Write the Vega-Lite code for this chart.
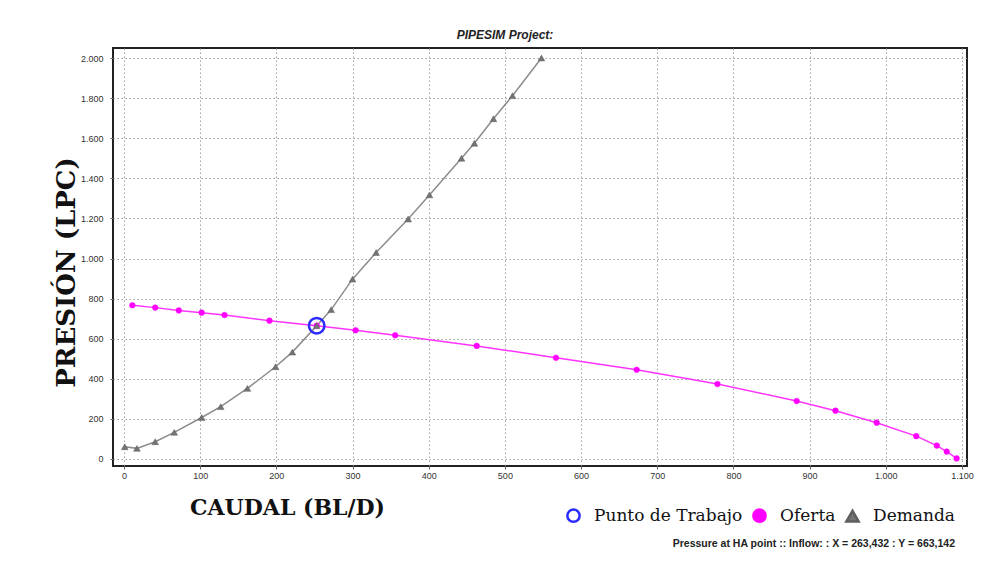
{
  "$schema": "https://vega.github.io/schema/vega-lite/v6.json",
  "autosize": {"type": "none"},
  "width": 854,
  "height": 418,
  "padding": {"left": 113, "top": 48, "right": 30, "bottom": 103},
  "background": "white",
  "title": {
    "text": "PIPESIM Project:",
    "font": "Liberation Sans",
    "fontSize": 12,
    "fontWeight": "bold",
    "fontStyle": "italic",
    "color": "#222",
    "anchor": "middle",
    "dx": -35,
    "offset": 6
  },
  "config": {
    "view": {"stroke": "#222", "strokeWidth": 2},
    "axis": {
      "labelFont": "Liberation Sans",
      "labelFontSize": 9,
      "labelColor": "#333",
      "domain": false,
      "grid": true,
      "gridColor": "#a0a0a0",
      "gridDash": [1.5, 2.5],
      "gridWidth": 1,
      "gridOpacity": 1,
      "tickColor": "#666",
      "tickSize": 3
    },
    "legend": {
      "labelFont": "DejaVu Serif",
      "labelFontSize": 17,
      "labelColor": "#111",
      "labelOffset": 12,
      "labelLimit": 300,
      "columnPadding": 5,
      "symbolSize": 150,
      "symbolStrokeWidth": 2.5,
      "titleFont": "Liberation Sans",
      "titleFontSize": 10.5,
      "titleFontWeight": "bold",
      "titleColor": "#222",
      "titleLimit": 400,
      "titleOrient": "bottom",
      "titleAnchor": "end",
      "titlePadding": 12
    }
  },
  "data": {
    "values": [
      {"serie": "Oferta", "caudal": 11, "presion": 767},
      {"serie": "Oferta", "caudal": 41, "presion": 755},
      {"serie": "Oferta", "caudal": 72, "presion": 741},
      {"serie": "Oferta", "caudal": 102, "presion": 730},
      {"serie": "Oferta", "caudal": 132, "presion": 718},
      {"serie": "Oferta", "caudal": 191, "presion": 690},
      {"serie": "Oferta", "caudal": 253, "presion": 665},
      {"serie": "Oferta", "caudal": 304, "presion": 642},
      {"serie": "Oferta", "caudal": 356, "presion": 617},
      {"serie": "Oferta", "caudal": 463, "presion": 564},
      {"serie": "Oferta", "caudal": 567, "presion": 505},
      {"serie": "Oferta", "caudal": 673, "presion": 445},
      {"serie": "Oferta", "caudal": 779, "presion": 374},
      {"serie": "Oferta", "caudal": 883, "presion": 289},
      {"serie": "Oferta", "caudal": 934, "presion": 241},
      {"serie": "Oferta", "caudal": 988, "presion": 181},
      {"serie": "Oferta", "caudal": 1040, "presion": 114},
      {"serie": "Oferta", "caudal": 1067, "presion": 67},
      {"serie": "Oferta", "caudal": 1080, "presion": 37},
      {"serie": "Oferta", "caudal": 1093, "presion": 3},
      {"serie": "Demanda", "caudal": 1, "presion": 61},
      {"serie": "Demanda", "caudal": 17, "presion": 53},
      {"serie": "Demanda", "caudal": 41, "presion": 86},
      {"serie": "Demanda", "caudal": 66, "presion": 133},
      {"serie": "Demanda", "caudal": 102, "presion": 207},
      {"serie": "Demanda", "caudal": 127, "presion": 261},
      {"serie": "Demanda", "caudal": 162, "presion": 352},
      {"serie": "Demanda", "caudal": 199, "presion": 460},
      {"serie": "Demanda", "caudal": 221, "presion": 533},
      {"serie": "Demanda", "caudal": 253, "presion": 665},
      {"serie": "Demanda", "caudal": 272, "presion": 745},
      {"serie": "Demanda", "caudal": 300, "presion": 897},
      {"serie": "Demanda", "caudal": 331, "presion": 1030},
      {"serie": "Demanda", "caudal": 373, "presion": 1197},
      {"serie": "Demanda", "caudal": 401, "presion": 1317},
      {"serie": "Demanda", "caudal": 443, "presion": 1500},
      {"serie": "Demanda", "caudal": 460, "presion": 1575},
      {"serie": "Demanda", "caudal": 485, "presion": 1697},
      {"serie": "Demanda", "caudal": 510, "presion": 1812},
      {"serie": "Demanda", "caudal": 548, "presion": 2000},
      {"serie": "Punto de Trabajo", "caudal": 253, "presion": 665}
    ]
  },
  "encoding": {
    "x": {
      "field": "caudal",
      "type": "quantitative",
      "scale": {"domain": [-14.4, 1106.6], "nice": false, "zero": false},
      "axis": {
        "values": [0, 100, 200, 300, 400, 500, 600, 700, 800, 900, 1000, 1100],
        "labelExpr": "replace(format(datum.value, ',d'), ',', '.')",
        "labelPadding": 2,
        "title": "CAUDAL (BL/D)",
        "titleFont": "DejaVu Serif",
        "titleFontSize": 22,
        "titleFontWeight": "bold",
        "titleColor": "#111",
        "titleAlign": "center",
        "titleBaseline": "alphabetic",
        "titleX": 174,
        "titleY": 48
      }
    },
    "y": {
      "field": "presion",
      "type": "quantitative",
      "scale": {"domain": [-35, 2050], "nice": false, "zero": false},
      "axis": {
        "values": [0, 200, 400, 600, 800, 1000, 1200, 1400, 1600, 1800, 2000],
        "labelExpr": "replace(format(datum.value, ',d'), ',', '.')",
        "labelPadding": 7,
        "title": "PRESIÓN (LPC)",
        "titleFont": "DejaVu Serif",
        "titleFontSize": 26,
        "titleFontWeight": "bold",
        "titleColor": "#111",
        "titleAngle": -90,
        "titleAlign": "center",
        "titleBaseline": "alphabetic",
        "titleX": -39,
        "titleY": 224
      }
    }
  },
  "layer": [
    {
      "transform": [{"filter": "datum.serie !== 'Punto de Trabajo'"}],
      "mark": {"type": "line", "strokeWidth": 1.5},
      "encoding": {
        "color": {
          "field": "serie",
          "type": "nominal",
          "scale": {
            "domain": ["Oferta", "Demanda"],
            "range": ["#ff33ff", "#8c8c8c"]
          },
          "legend": null
        }
      }
    },
    {
      "transform": [{"filter": "datum.serie === 'Oferta'"}],
      "mark": {"type": "point", "filled": true, "opacity": 1, "size": 32, "strokeWidth": 0.5},
      "encoding": {
        "shape": {
          "field": "serie",
          "type": "nominal",
          "scale": {
            "domain": ["Punto de Trabajo", "Oferta", "Demanda"],
            "range": ["circle", "circle", "triangle-up"]
          },
          "legend": {
            "title": "Pressure at HA point :: Inflow: : X = 263,432 : Y = 663,142",
            "orient": "none",
            "legendX": 452,
            "legendY": 459,
            "direction": "horizontal"
          }
        },
        "fill": {
          "field": "serie",
          "type": "nominal",
          "scale": {
            "domain": ["Punto de Trabajo", "Oferta", "Demanda"],
            "range": ["transparent", "#ff00ff", "#737373"]
          },
          "legend": {
            "title": "Pressure at HA point :: Inflow: : X = 263,432 : Y = 663,142",
            "orient": "none",
            "legendX": 452,
            "legendY": 459,
            "direction": "horizontal"
          }
        },
        "stroke": {
          "field": "serie",
          "type": "nominal",
          "scale": {
            "domain": ["Punto de Trabajo", "Oferta", "Demanda"],
            "range": ["#2a2aff", "#ff00ff", "#5f5f5f"]
          },
          "legend": {
            "title": "Pressure at HA point :: Inflow: : X = 263,432 : Y = 663,142",
            "orient": "none",
            "legendX": 452,
            "legendY": 459,
            "direction": "horizontal"
          }
        }
      }
    },
    {
      "transform": [{"filter": "datum.serie === 'Demanda'"}],
      "mark": {"type": "point", "filled": true, "opacity": 1, "size": 45, "strokeWidth": 0.5},
      "encoding": {
        "shape": {"field": "serie", "type": "nominal"},
        "fill": {"field": "serie", "type": "nominal"},
        "stroke": {"field": "serie", "type": "nominal"}
      }
    },
    {
      "transform": [{"filter": "datum.serie === 'Punto de Trabajo'"}],
      "mark": {"type": "point", "filled": true, "opacity": 1, "size": 240, "strokeWidth": 2.5},
      "encoding": {
        "shape": {"field": "serie", "type": "nominal"},
        "fill": {"field": "serie", "type": "nominal"},
        "stroke": {"field": "serie", "type": "nominal"}
      }
    }
  ]
}
